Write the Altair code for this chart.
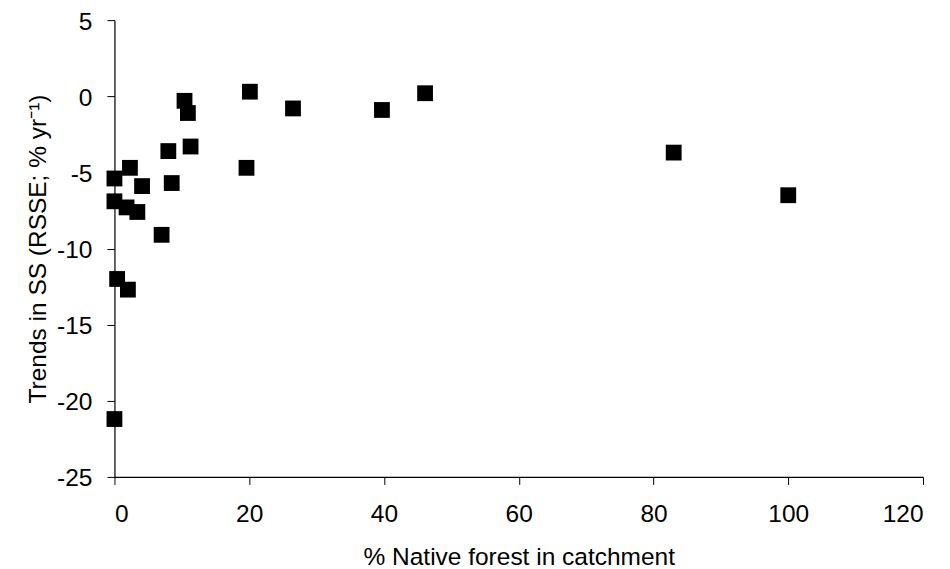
import altair as alt
import pandas as pd

# % native forest in each catchment and the trend in suspended sediment
native_forest = [0.0, 0.0, 0.0, 0.4, 1.8, 2.0, 2.3, 3.4, 4.1, 7.0, 8.0, 8.5,
                 10.4, 10.9, 11.3, 19.6, 20.1, 26.5, 39.7, 46.1, 83.0, 100.0]
ss_trend = [-21.2, -5.4, -6.9, -12.0, -7.3, -12.7, -4.7, -7.6, -5.9, -9.1, -3.6, -5.7,
            -0.3, -1.1, -3.3, -4.7, 0.3, -0.8, -0.9, 0.2, -3.7, -6.5]

x_ticks = [0, 20, 40, 60, 80, 100, 120]
y_ticks = [-25, -20, -15, -10, -5, 0, 5]

df = pd.DataFrame({"forest": native_forest, "trend": ss_trend})

FONT = "Liberation Sans"

chart = (
    alt.Chart(df)
    .mark_point(shape="square", filled=True, size=250, color="black", opacity=1)
    .encode(
        x=alt.X(
            "forest:Q",
            scale=alt.Scale(domain=[0, 120], nice=False, zero=False),
            axis=alt.Axis(
                title="% Native forest in catchment",
                values=x_ticks,
                grid=False,
                tickSize=7.5,
                labelPadding=18,
                labelExpr="toString(datum.value)",
                titleBaseline="alphabetic",
                titleY=88,
            ),
        ),
        y=alt.Y(
            "trend:Q",
            scale=alt.Scale(domain=[-25, 5], nice=False, zero=False),
            axis=alt.Axis(
                title="Trends in SS (RSSE; % yr⁻¹)",
                values=y_ticks,
                grid=False,
                tickSize=7.5,
                labelPadding=15,
                labelOffset=2,
                labelExpr="toString(datum.value)",
                titleBaseline="alphabetic",
                titleX=-69,
            ),
        ),
    )
    .properties(
        width=809,
        height=457,
        autosize=alt.AutoSizeParams(type="none"),
        padding={"left": 114.5, "top": 20, "right": 27, "bottom": 92},
        background="white",
    )
    .configure_view(stroke=None)
    .configure_axis(
        domainColor="black",
        domainWidth=1.2,
        tickColor="black",
        tickWidth=1,
        labelFont=FONT,
        labelFontSize=24.5,
        labelColor="black",
        titleFont=FONT,
        titleFontSize=24.5,
        titleFontWeight="normal",
        titleColor="black",
    )
)

chart.save("out.html", embed_options={"renderer": "svg", "actions": False})
